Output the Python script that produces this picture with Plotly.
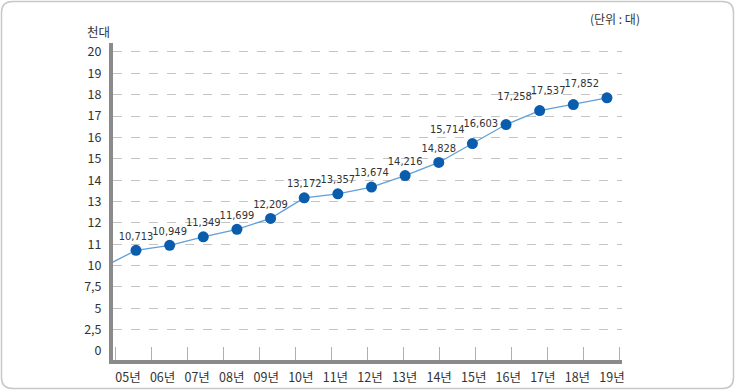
import plotly.graph_objects as go

# ---- data ----
years = ["05년", "06년", "07년", "08년", "09년", "10년", "11년", "12년",
         "13년", "14년", "15년", "16년", "17년", "18년", "19년"]
values = [10713, 10949, 11349, 11699, 12209, 13172, 13357, 13674,
          14216, 14828, 15714, 16603, 17258, 17537, 17852]
prev_value = 9800  # 04년 (off-chart lead-in of the line)
ytick_values = [0, 2.5, 5, 7.5, 10, 11, 12, 13, 14, 15, 16, 17, 18, 19, 20]
ytick_labels = ["0", "2,5", "5", "7,5", "10", "11", "12", "13", "14",
                "15", "16", "17", "18", "19", "20"]


def scale(v):
    """Broken axis: 0-10 step 2.5, then 10-20 step 1 (equal spacing)."""
    return v / 2.5 if v <= 10 else v - 6


# ---- layout geometry (pixels) ----
W, H = 735, 390
L, R, T, B = 113, 113, 43, 30
pw, ph = W - L - R, H - T - B
marker_x = list(range(len(years)))
x_rng = [-0.684, 14.447]
y_rng = [-0.42, 14.42]

ypos = [scale(v / 1000) for v in values]
ytick_pos = [scale(v) for v in ytick_values]

text_pos = (["top center"] * 10 + ["top left", "middle left",
                                    "top left", "top left", "top left"])

NUMFONT = "DejaVu Sans Condensed, Liberation Sans Narrow, Liberation Sans, sans-serif"
KFONT = "Noto Sans CJK KR, sans-serif"

fig = go.Figure()
fig.add_trace(go.Scatter(
    x=[-1] + marker_x, y=[scale(prev_value / 1000)] + ypos,
    mode="lines", line=dict(color="#5f9fd8", width=1.3),
    hoverinfo="skip", showlegend=False))
fig.add_trace(go.Scatter(
    x=marker_x, y=ypos, mode="markers+text",
    marker=dict(color="#0a5cad", size=11),
    text=[f"{v:,}" for v in values], textposition=text_pos,
    textfont=dict(family=NUMFONT, size=11, color="#333"),
    showlegend=False, cliponaxis=False))

# label and tick-mark positions along the x axis (in axis units)
step = pw / (x_rng[1] - x_rng[0])
label_vals = [(128 + 34.57 * k - 136) / step for k in range(len(years))]
tick_vals = [(115 + 36.07 * k - 136) / step for k in range(len(years))]

fig.update_xaxes(
    range=x_rng, showgrid=False, zeroline=False, automargin=False,
    showline=True, linecolor="#8a8a8a", linewidth=4,
    tickmode="array", tickvals=label_vals, ticktext=years, ticks="",
    tickfont=dict(family=KFONT, size=12.5, color="#333"),
    ticklabelstandoff=3,
    minor=dict(tickmode="array", tickvals=tick_vals, ticks="inside",
               ticklen=13, tickwidth=1, tickcolor="#b0b0b0", showgrid=False),
)
fig.update_yaxes(
    range=y_rng, zeroline=False, showgrid=False, automargin=False,
    showline=True, linecolor="#8a8a8a", linewidth=4,
    tickmode="array", tickvals=ytick_pos, ticktext=ytick_labels, ticks="",
    tickfont=dict(family=KFONT, size=12.5, color="#333"),
    ticklabelstandoff=5,
    minor=dict(tickmode="array", tickvals=ytick_pos[1:], ticks="",
               showgrid=True, gridcolor="#c4c4c4", griddash="dash", gridwidth=1),
)


# rounded frame around whole image
def px(x):
    return (x - L) / pw


def py(y):
    return (H - B - y) / ph


x0, x1, y0, y1, r = 1.5, 733.5, 1.5, 388.5, 11
path = (f"M {px(x0 + r)},{py(y0)} L {px(x1 - r)},{py(y0)} "
        f"Q {px(x1)},{py(y0)} {px(x1)},{py(y0 + r)} "
        f"L {px(x1)},{py(y1 - r)} Q {px(x1)},{py(y1)} {px(x1 - r)},{py(y1)} "
        f"L {px(x0 + r)},{py(y1)} Q {px(x0)},{py(y1)} {px(x0)},{py(y1 - r)} "
        f"L {px(x0)},{py(y0 + r)} Q {px(x0)},{py(y0)} {px(x0 + r)},{py(y0)} Z")
fig.add_shape(type="path", path=path, xref="paper", yref="paper",
              line=dict(color="#c8c8c8", width=1.5), layer="below")

fig.add_annotation(text="천대", xref="paper", yref="paper",
                   x=px(98), y=py(31), xanchor="center", yanchor="middle",
                   showarrow=False, font=dict(family=KFONT, size=12.5, color="#333"))
fig.add_annotation(text="(단위 : 대)", xref="paper", yref="paper",
                   x=px(615), y=py(18), xanchor="center", yanchor="middle",
                   showarrow=False, font=dict(family=KFONT, size=12, color="#333"))

fig.update_layout(
    width=W, height=H, margin=dict(l=L, r=R, t=T, b=B, autoexpand=False),
    paper_bgcolor="white", plot_bgcolor="white",
)
fig.write_html("out.html", config={"displayModeBar": False},
               post_script="document.body.style.margin='0';document.body.style.overflow='hidden';")
